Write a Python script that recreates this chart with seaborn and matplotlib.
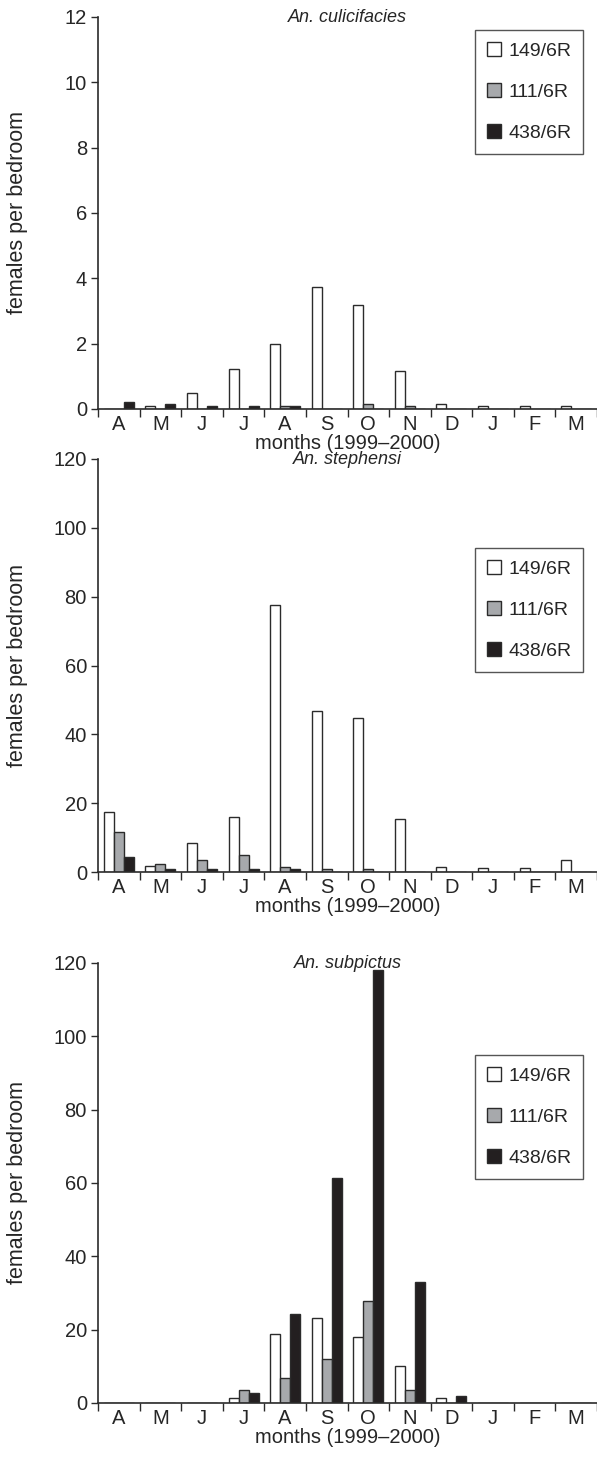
import pandas as pd
import matplotlib
matplotlib.use('Agg')
import matplotlib.pyplot as plt
import seaborn as sns
from matplotlib.patches import Patch

# months (April 1999 - March 2000)
months = ['A', 'M', 'J', 'J', 'A', 'S', 'O', 'N', 'D', 'J', 'F', 'M']
strains = ['149/6R', '111/6R', '438/6R']

# An. culicifacies (females per bedroom)
culi_149 = [0.0, 0.08, 0.48, 1.22, 1.98, 3.72, 3.18, 1.16, 0.14, 0.08, 0.08, 0.08]
culi_111 = [0.0, 0.0, 0.0, 0.0, 0.08, 0.0, 0.14, 0.08, 0.0, 0.0, 0.0, 0.0]
culi_438 = [0.21, 0.15, 0.08, 0.08, 0.08, 0.0, 0.0, 0.0, 0.0, 0.0, 0.0, 0.0]

# An. stephensi
steph_149 = [17.3, 1.6, 8.3, 16.0, 77.5, 46.8, 44.8, 15.3, 1.4, 1.2, 1.2, 3.6]
steph_111 = [11.7, 2.3, 3.6, 5.0, 1.5, 0.8, 0.8, 0.0, 0.0, 0.0, 0.0, 0.0]
steph_438 = [4.3, 1.0, 0.8, 0.8, 0.8, 0.0, 0.0, 0.0, 0.0, 0.0, 0.0, 0.0]

# An. subpictus
subp_149 = [0.0, 0.0, 0.0, 1.5, 18.7, 23.2, 18.0, 10.0, 1.5, 0.0, 0.0, 0.0]
subp_111 = [0.0, 0.0, 0.0, 3.5, 6.8, 12.0, 27.9, 3.5, 0.0, 0.0, 0.0, 0.0]
subp_438 = [0.0, 0.0, 0.0, 2.8, 24.2, 61.4, 118.0, 33.1, 2.0, 0.0, 0.0, 0.0]

panels = [
    ('An. culicifacies', [culi_149, culi_111, culi_438], 12, 2),
    ('An. stephensi', [steph_149, steph_111, steph_438], 120, 20),
    ('An. subpictus', [subp_149, subp_111, subp_438], 120, 20),
]

colors = ['#ffffff', '#a7a9ac', '#231f20']
edge = '#2b2b2b'

sns.set_style('ticks')
plt.rcParams['font.family'] = ['Liberation Sans', 'DejaVu Sans']

fig = plt.figure(figsize=(5.97, 14.57), dpi=100)
W, H = 597, 1457
# axes boxes in pixels: (top, bottom), and legend top
boxes = [(17, 409), (459, 872), (963, 1403)]
legend_tops = [30, 548, 1055]
left, right = 98, 597

for (title, series, ymax, step), (top, bottom), ltop in zip(panels, boxes, legend_tops):
    h = bottom - top
    ax = fig.add_axes([left / W, 1 - bottom / H, (right - left) / W, h / H])
    rows = []
    for s, vals in zip(strains, series):
        for i, v in enumerate(vals):
            rows.append({'pos': i, 'strain': s, 'value': v})
    df = pd.DataFrame(rows)
    sns.barplot(data=df, x='pos', y='value', hue='strain', hue_order=strains,
                palette=colors, width=0.72, gap=0, edgecolor=edge, linewidth=1.0,
                saturation=1, legend=False, ax=ax, native_scale=True)
    ax.set_xlim(-0.5, 11.5)
    ax.set_ylim(0, ymax)
    ax.set_yticks(range(0, ymax + 1, step))
    ax.set_xticks([i - 0.5 for i in range(13)])
    ax.set_xticklabels([])
    ax.set_xticks(range(12), minor=True)
    ax.set_xticklabels(months, minor=True)
    ax.tick_params(axis='x', which='major', length=6, width=1, color=edge, direction='out')
    ax.tick_params(axis='x', which='minor', length=0, pad=4, labelsize=14.5)
    ax.tick_params(axis='y', length=5, width=1, color=edge, labelsize=14.5, pad=3)
    sns.despine(ax=ax)
    for sp in ['left', 'bottom']:
        ax.spines[sp].set_color(edge)
        ax.spines[sp].set_linewidth(1.2)
    ax.set_xlabel('months (1999\u20132000)', fontsize=14.5, labelpad=0)
    ax.set_ylabel('females per bedroom', fontsize=15.5)
    ax.yaxis.set_label_coords((28 - left) / (right - left), 0.5)
    ax.text(0.5, 1.0, title, transform=ax.transAxes, ha='center', va='center',
            fontsize=13, style='italic')
    handles = [Patch(facecolor=c, edgecolor=edge, linewidth=1.0) for c in colors]
    leg = ax.legend(handles, strains, loc='upper right',
                    bbox_to_anchor=((583 - left) / (right - left), 1 - (ltop - top) / h),
                    frameon=True, fancybox=False, edgecolor=edge, fontsize=14,
                    handlelength=0.75, handleheight=0.75, handletextpad=0.35,
                    labelspacing=1.2, borderpad=0.6, borderaxespad=0)
    leg.get_frame().set_linewidth(1.0)

fig.savefig('out.png', dpi=100)
